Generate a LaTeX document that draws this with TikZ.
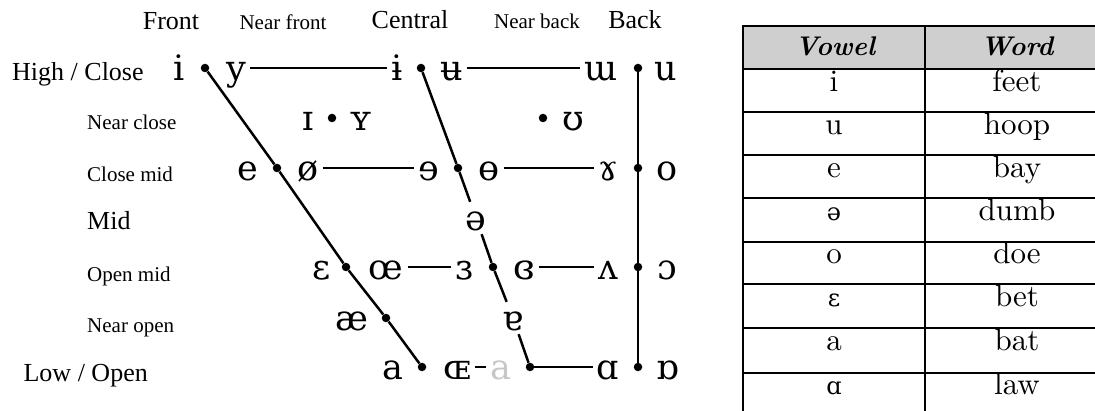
\documentclass[tikz,border=0pt]{standalone}
\usepackage{fontspec}
\newfontfamily\lblfont{Liberation Serif}
\newfontfamily\ipafont{DejaVu Serif}
\newfontfamily\tabfont{lmroman10-regular}[Extension=.otf, BoldItalicFont=lmroman10-bolditalic, BoldFont=lmroman10-bold, ItalicFont=lmroman10-italic]
\begin{document}
\begin{tikzpicture}[x=1pt,y=-1pt,
  lbl/.style={font=\lblfont\fontsize{26}{30}\selectfont, inner sep=0pt},
  slbl/.style={font=\lblfont\fontsize{21}{25}\selectfont, inner sep=0pt},
  ipa/.style={font=\ipafont\fontsize{35}{40}\selectfont, text height=26pt, text depth=0pt, inner xsep=4pt, inner ysep=3pt},
  dot/.style={circle, fill=black, inner sep=0pt, minimum size=8.5pt},
  ln/.style={line width=2.5pt},
  tbl/.style={font=\tabfont\fontsize{31}{34}\selectfont, anchor=base, inner sep=0pt},
  tipa/.style={font=\ipafont\fontsize{24}{27}\selectfont, anchor=base, inner sep=0pt},
  thd/.style={font=\tabfont\fontsize{27}{30}\selectfont\bfseries\itshape, anchor=base, inner sep=0pt},
  tline/.style={line width=1.9pt}]
\useasboundingbox (0,0) rectangle (1095,411);
% column headers
\node[lbl, anchor=base] (hFront) at (171,30) {Front};
\node[slbl, anchor=base] (hNF) at (283,30) {Near front};
\node[lbl, anchor=base] (hC) at (410,29) {Central};
\node[slbl, anchor=base] (hNB) at (537,29) {Near back};
\node[lbl, anchor=base] (hB) at (635,29) {Back};
% row labels
\node[lbl, anchor=base west] (rHigh) at (12,81) {High / Close};
\node[slbl, anchor=base west] (rNC) at (87,130) {Near close};
\node[slbl, anchor=base west] (rCM) at (87,182) {Close mid};
\node[lbl, anchor=base west] (rMid) at (87,230) {Mid};
\node[slbl, anchor=base west] (rOM) at (87,282) {Open mid};
\node[slbl, anchor=base west] (rNO) at (87,333) {Near open};
\node[lbl, anchor=base east] (rLow) at (148,382) {Low / Open};
% close row
\node[ipa] (v-i) at (179,68) {i};
\node[ipa] (v-y) at (236,68) {y};
\node[ipa] (v-ibar) at (397,68) {ɨ};
\node[ipa] (v-ubar) at (452,68) {ʉ};
\node[ipa] (v-mw) at (601,68) {ɯ};
\node[ipa] (v-u) at (666,68) {u};
\node[dot] (f1) at (205,68) {};
\node[dot] (c1) at (421,68) {};
\node[dot] (b1) at (638,68) {};
% near close
\node[ipa] (v-I) at (308,118) {ɪ};
\node[ipa] (v-Y) at (361,118) {ʏ};
\node[ipa] (v-U) at (573,118) {ʊ};
\node[dot] (n1) at (332,118) {};
\node[dot] (n2) at (543,118) {};
% close mid
\node[ipa] (v-e) at (248,168) {e};
\node[ipa] (v-oslash) at (308,168) {ø};
\node[ipa] (v-reve) at (429,168) {ɘ};
\node[ipa] (v-baro) at (489,168) {ɵ};
\node[ipa] (v-ramshorn) at (608,168) {ɤ};
\node[ipa] (v-o) at (667,168) {o};
\node[dot] (f2) at (277,168) {};
\node[dot] (c2) at (458,168) {};
\node[dot] (b2) at (638,168) {};
% mid
\node[ipa] (v-schwa) at (476,218) {ə};
% open mid
\node[ipa] (v-eps) at (322,267) {ɛ};
\node[ipa] (v-oe) at (386,267) {œ};
\node[ipa] (v-reveps) at (464,267) {ɜ};
\node[ipa] (v-creveps) at (524,267) {ɞ};
\node[ipa] (v-turnv) at (608,267) {ʌ};
\node[ipa] (v-openo) at (667,267) {ɔ};
\node[dot] (f3) at (346,267) {};
\node[dot] (c3) at (493,267) {};
\node[dot] (b3) at (638,267) {};
% near open
\node[ipa] (v-ae) at (352,318) {æ};
\node[ipa] (v-turna) at (513,318) {ɐ};
\node[dot] (f4) at (386,318) {};
% open
\node[ipa] (v-a) at (393,367) {a};
\node[ipa] (v-OE) at (457,367) {ɶ};
\node[ipa, text=black!22] (v-ga) at (501,367) {a};
\node[ipa] (v-scra) at (608,367) {ɑ};
\node[ipa] (v-turnscra) at (668,367) {ɒ};
\node[dot] (f5) at (422,367) {};
\node[dot] (c4) at (530,367) {};
\node[dot] (b4) at (638,367) {};
% connectors
\draw[ln] (f1) -- (f2) -- (f3) -- (f4) -- (f5);
\draw[ln] (c1) -- (c2);
\draw[ln] (c2) -- (v-schwa);
\draw[ln] (v-schwa) -- (c3);
\draw[ln] (c3) -- (v-turna);
\draw[ln] (v-turna) -- (c4);
\draw[ln] (b1) -- (b2) -- (b3) -- (b4);
\draw[ln] (v-y) -- (v-ibar);
\draw[ln] (v-ubar) -- (v-mw);
\draw[ln] (v-oslash) -- (v-reve);
\draw[ln] (v-baro) -- (v-ramshorn);
\draw[ln] (v-oe) -- (v-reveps);
\draw[ln] (v-creveps) -- (v-turnv);
\draw[ln] (c4) -- (v-scra);
\draw[line width=1.6pt] (v-OE) -- (v-ga);
% table
\begin{scope}
\clip (0,0) rectangle (1095,411);
\fill[black!19] (743,26) rectangle (1109,69);
\foreach \yy in {69,112,155,198,242,284,328,373}
  \draw[tline] (743,\yy) -- (1109,\yy);
\draw[tline] (743,26) rectangle (1109,416);
\draw[tline] (925,26) -- (925,416);
\node[thd] (tVowel) at (835,56) {Vowel};
\node[thd] (tWord) at (1017,56) {Word};
\node[tbl] (t1a) at (834,92) {i};      \node[tbl] (t1b) at (1017,92) {feet};
\node[tbl] (t2a) at (834,135) {u};     \node[tbl] (t2b) at (1017,135) {hoop};
\node[tbl] (t3a) at (834,178) {e};     \node[tbl] (t3b) at (1017,178) {bay};
\node[tipa] (t4a) at (834,221) {ə};    \node[tbl] (t4b) at (1017,221) {dumb};
\node[tbl] (t5a) at (834,264) {o};     \node[tbl] (t5b) at (1017,264) {doe};
\node[tipa] (t6a) at (834,307) {ɛ};    \node[tbl] (t6b) at (1017,307) {bet};
\node[tbl] (t7a) at (834,351) {a};     \node[tbl] (t7b) at (1017,351) {bat};
\node[tipa] (t8a) at (834,395) {ɑ};    \node[tbl] (t8b) at (1017,395) {law};
\end{scope}
\end{tikzpicture}
\end{document}
